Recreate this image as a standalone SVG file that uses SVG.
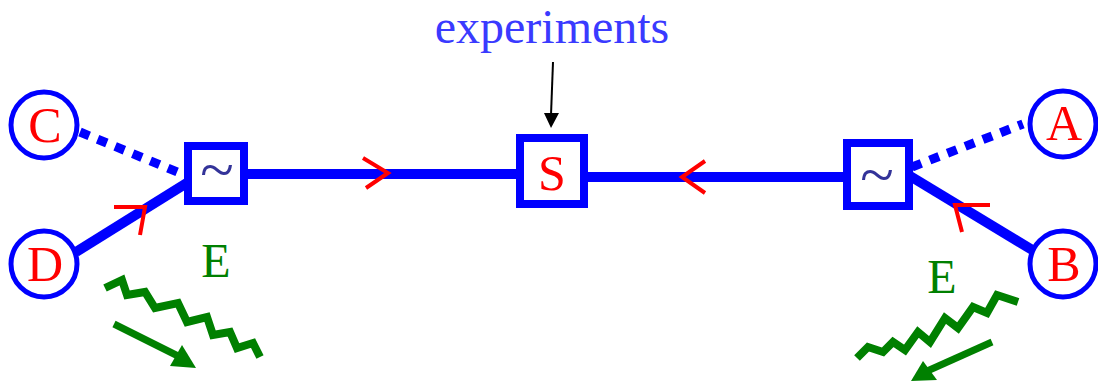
<svg xmlns="http://www.w3.org/2000/svg" width="1098" height="382" viewBox="0 0 1098 382">
<style>
.node{fill:#fff;stroke:#0000ff;stroke-width:5}
.box{fill:#fff;stroke:#0000ff;stroke-width:8}
.lbl{font-family:"Liberation Serif","Times New Roman",serif;font-size:50px;fill:#ff0000;text-anchor:middle}
.til{font-family:"Liberation Serif","Times New Roman",serif;font-size:62px;fill:#333399;text-anchor:middle}
.e{font-family:"Liberation Serif","Times New Roman",serif;font-size:48px;fill:#008000;text-anchor:middle}
.thick{stroke:#0000ff;stroke-width:10;fill:none}
.dot{stroke:#0000ff;stroke-width:9;fill:none;stroke-dasharray:10 9}
.red{stroke:#ff0000;stroke-width:4;fill:none}
.zig{stroke:#008000;stroke-width:8;fill:none;stroke-linejoin:miter}
.garr{stroke:#008000;stroke-width:7;fill:none}
</style>
<g id="connectors">
<line class="dot" x1="80" y1="132" x2="187" y2="176"/>
<line class="thick" x1="76" y1="252" x2="190" y2="181"/>
<line class="thick" x1="248" y1="174" x2="520" y2="174"/>
<line class="thick" x1="584" y1="177" x2="846" y2="177"/>
<line class="dot" x1="912" y1="167" x2="1023" y2="124"/>
<line class="thick" x1="910" y1="176" x2="1034" y2="251"/>
<path class="red" d="M114,207 L145,207 L140,235"/>
<path class="red" d="M990,205 L955,205 L962,232"/>
<path class="red" d="M363,158 L388,173 L366,188"/>
<path class="red" d="M705,161 L682,177 L705,193"/>
<line x1="553" y1="62" x2="551" y2="115" stroke="#000" stroke-width="2"/>
<polygon points="544,113 559,113 551,128" fill="#000"/>
<polyline class="zig" points="105,288 122,280 127,295 145,292 155,308 178,303 187,322 207,317 213,335 230,332 237,348 253,343 260,357"/>
<line class="garr" x1="114" y1="324" x2="180" y2="357"/>
<polygon points="170,366 182,345 196,368" fill="#008000"/>
<polyline class="zig" points="857,358 868,347 883,352 893,342 905,350 918,332 930,342 945,318 958,328 973,307 987,313 997,295 1018,302"/>
<line class="garr" x1="992" y1="342" x2="925" y2="372"/>
<polygon points="923,361 937,380 911,381" fill="#008000"/>
</g>
<g id="exp"><text x="552" y="43" font-family="'Liberation Serif','Times New Roman',serif" font-size="48" fill="#3a3aff" text-anchor="middle">experiments</text></g>
<g id="C"><circle class="node" cx="44" cy="125" r="33"/><text class="lbl" x="45" y="142">C</text></g>
<g id="D"><circle class="node" cx="44" cy="264" r="33"/><text class="lbl" x="45" y="281">D</text></g>
<g id="A"><circle class="node" cx="1063" cy="124" r="33"/><text class="lbl" x="1064" y="140">A</text></g>
<g id="B"><circle class="node" cx="1063" cy="264" r="33"/><text class="lbl" x="1064" y="281">B</text></g>
<g id="M1"><rect class="box" x="188" y="146" width="56" height="55"/><text class="til" x="217" y="190">~</text></g>
<g id="S"><rect class="box" x="520" y="138" width="64" height="66"/><text class="lbl" x="552" y="190">S</text></g>
<g id="M2"><rect class="box" x="847" y="143" width="62" height="63"/><text class="til" x="877" y="195">~</text></g>
<g id="E1"><text class="e" x="216" y="277">E</text></g>
<g id="E2"><text class="e" x="942" y="293">E</text></g>
</svg>
